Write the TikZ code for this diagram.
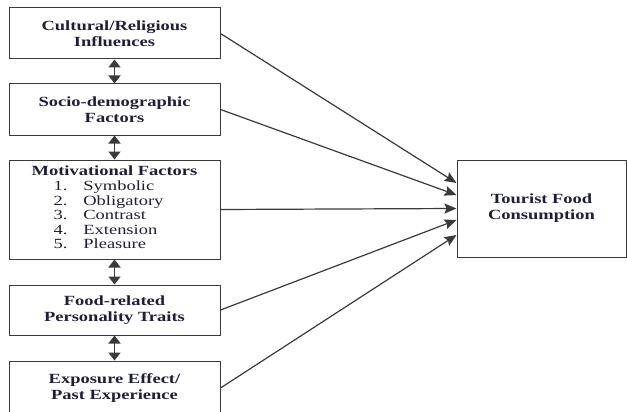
\documentclass[tikz,border=0pt]{standalone}
\usepackage{fontspec}
\setmainfont{Liberation Serif}[FakeStretch=1.32]
\usetikzlibrary{arrows.meta}
\definecolor{inkblue}{HTML}{1E1E36}
\definecolor{linegray}{HTML}{3A3A3A}
\tikzset{
	factor/.style={draw=linegray, line width=1pt, minimum width=211pt, minimum height=51pt, inner sep=0pt, align=center, text=inkblue, font=\fontsize{14}{16}\selectfont\bfseries},
	link/.style={draw=linegray, line width=1.2pt, -{Stealth[length=12pt,width=10pt,inset=2pt]}},
	both/.style={draw=linegray, line width=1.6pt, {Triangle[length=8pt,width=12pt]}-{Triangle[length=8pt,width=12pt]}}
}
\begin{document}
\begin{tikzpicture}[x=1pt,y=-1pt]
			\useasboundingbox (0,0) rectangle (627,412);
			\node[factor] (cult) at (114.5,33.5) {Cultural/Religious\\Influences};
			\node[factor] (socio) at (114.5,109.5) {Socio-demographic\\Factors};
			\node[factor, minimum height=99pt] (motiv) at (114.5,209.5) {Motivational Factors\\[-1pt]
				\mdseries\fontsize{14}{14.5}\selectfont
				\begin{tabular}[t]{@{}r@{\hspace{16pt}}l@{}}
					1.&Symbolic\\ 2.&Obligatory\\ 3.&Contrast\\ 4.&Extension\\ 5.&Pleasure
				\end{tabular}\hspace*{12pt}};
			\node[factor, minimum height=50pt] (traits) at (114.5,310) {Food-related\\Personality Traits};
			\node[factor, minimum height=54pt] (expo) at (114.5,388) {Exposure Effect/\\Past Experience};
			\node[factor, minimum width=169pt, minimum height=97pt] (tfc) at (541.5,208.5) {Tourist Food\\Consumption};
			\draw[both] (cult) -- (socio);
			\draw[both] (socio) -- (motiv);
			\draw[both] (motiv) -- (traits);
			\draw[both] (traits) -- (expo);
			\draw[link] (cult.east) -- ([yshift=25.5pt]tfc.west);
			\draw[link] (socio.east) -- ([yshift=13.5pt]tfc.west);
			\draw[link] (motiv.east) -- (tfc.west);
			\draw[link] (traits.east) -- ([yshift=-11.5pt]tfc.west);
			\draw[link] (expo.east) -- ([yshift=-26.5pt]tfc.west);
\end{tikzpicture}
\end{document}
